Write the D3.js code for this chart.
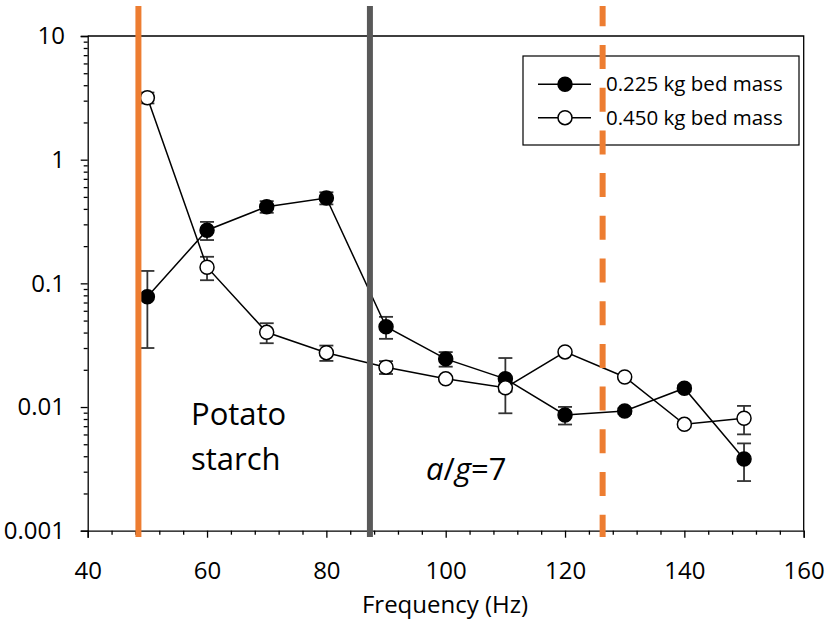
<!DOCTYPE html>
<html>
<head>
<meta charset="utf-8">
<script src="https://cdn.jsdelivr.net/npm/d3@7"></script>
<style>
  html, body { margin: 0; padding: 0; background: #fff; }
  svg { display: block; font-family: "Open Sans", "Noto Sans", sans-serif; }
</style>
</head>
<body>
<svg id="chart" width="833" height="620"></svg>
<script>
// Vibration frequency (Hz)
const frequencies = [50, 60, 70, 80, 90, 100, 110, 120, 130, 140, 150];

// 0.225 kg bed mass: mean and error
const mass225 = [0.078, 0.269, 0.417, 0.490, 0.0446, 0.0245, 0.0169, 0.00862, 0.00929, 0.0142, 0.0038];
const mass225Err = [0.048, 0.045, 0.045, 0.055, 0.009, 0.0033, 0.008, 0.0014, 0.0005, 0.0008, 0.00128];

// 0.450 kg bed mass: mean and error
const mass450 = [3.17, 0.135, 0.0402, 0.0275, 0.0210, 0.0169, 0.0143, 0.0279, 0.0175, 0.00725, 0.00811];
const mass450Err = [0.32, 0.029, 0.0074, 0.0039, 0.0025, 0.0005, 0.001, 0.0006, 0.0005, 0.0004, 0.0021];

const seriesNames = ["0.225 kg bed mass", "0.450 kg bed mass"];

// Axis ticks
const xTicks = [40, 60, 80, 100, 120, 140, 160];
const xTickLabels = ["40", "60", "80", "100", "120", "140", "160"];
const yTicks = [0.001, 0.01, 0.1, 1, 10];
const yTickLabels = ["0.001", "0.01", "0.1", "1", "10"];

// Reference frequencies (Hz)
const refSolidOrange = 48.5;
const refGrey = 87.3;
const refDashedOrange = 126.3;

const ORANGE = "#ED7D31";
const GREY = "#595959";
const ERR = "#333333";

const svg = d3.select("#chart");

const x = d3.scaleLinear().domain([40, 160]).range([87.7, 803.7]);
const y = d3.scaleLog().domain([0.001, 10]).range([530.7, 36]);

// Plot frame (top and right edges)
svg.append("path")
  .attr("d", `M${x(40)},${y(10)}H${x(160)}V${y(0.001)}`)
  .attr("fill", "none").attr("stroke", "#000").attr("stroke-width", 1.3);

// Minor ticks
const xMinor = d3.range(40, 161, 4).filter(v => !xTicks.includes(v));
const yMinor = [];
[0.001, 0.01, 0.1, 1].forEach(d => { for (let k = 2; k <= 9; k++) yMinor.push(d * k); });

const gx = svg.append("g").attr("transform", `translate(0,${y(0.001)})`);
gx.call(d3.axisBottom(x).tickValues(xMinor).tickSize(4).tickFormat(""));
gx.selectAll(".tick line").attr("stroke-width", 1.3);
gx.select(".domain").remove();
const gxMajor = svg.append("g").attr("transform", `translate(0,${y(0.001)})`)
  .call(d3.axisBottom(x).tickValues(xTicks).tickSize(7).tickPadding(24)
    .tickFormat((d, i) => xTickLabels[i]));
gxMajor.selectAll("text").attr("font-size", 24).attr("fill", "#000").attr("font-family", "Open Sans");
gxMajor.selectAll("line, path").attr("stroke", "#000").attr("stroke-width", 1.3);

const gy = svg.append("g").attr("transform", `translate(${x(40)},0)`);
gy.call(d3.axisLeft(y).tickValues(yMinor).tickSize(4).tickFormat(""));
gy.selectAll(".tick line").attr("stroke-width", 1.3);
gy.select(".domain").remove();
const gyMajor = svg.append("g").attr("transform", `translate(${x(40)},0)`)
  .call(d3.axisLeft(y).tickValues(yTicks).tickSize(7).tickPadding(15.7)
    .tickFormat((d, i) => yTickLabels[i]));
gyMajor.selectAll("text").attr("font-size", 24).attr("fill", "#000").attr("font-family", "Open Sans");
gyMajor.selectAll("line, path").attr("stroke", "#000").attr("stroke-width", 1.3);

// Axis title
svg.append("text")
  .attr("x", 445).attr("y", 613)
  .attr("text-anchor", "middle")
  .attr("font-size", 24)
  .text("Frequency (Hz)");

// Series
const series = [
  { name: seriesNames[0], values: mass225, err: mass225Err, fill: "#000" },
  { name: seriesNames[1], values: mass450, err: mass450Err, fill: "#fff" }
];

const line = d3.line().x(d => x(d.f)).y(d => y(d.v));
const capHalf = 7;

series.forEach(s => {
  const pts = frequencies.map((f, i) => ({ f, v: s.values[i], e: s.err[i] }));
  const eb = svg.append("g").attr("stroke", ERR).attr("stroke-width", 1.8);
  pts.forEach(p => {
    const top = y(p.v + p.e), bot = y(p.v - p.e), cx = x(p.f);
    eb.append("line").attr("x1", cx).attr("x2", cx).attr("y1", top).attr("y2", bot);
    eb.append("line").attr("x1", cx - capHalf).attr("x2", cx + capHalf).attr("y1", top).attr("y2", top);
    eb.append("line").attr("x1", cx - capHalf).attr("x2", cx + capHalf).attr("y1", bot).attr("y2", bot);
  });
  s.pts = pts;
});

series.forEach(s => {
  svg.append("path").datum(s.pts)
    .attr("d", line).attr("fill", "none")
    .attr("stroke", "#000").attr("stroke-width", 1.5);
});

series.forEach(s => {
  svg.append("g").selectAll("circle").data(s.pts).join("circle")
    .attr("cx", d => x(d.f)).attr("cy", d => y(d.v)).attr("r", 7)
    .attr("fill", s.fill).attr("stroke", "#000").attr("stroke-width", 1.5);
});

// Legend
const lg = svg.append("g");
lg.append("rect").attr("x", 523).attr("y", 56).attr("width", 276).attr("height", 89)
  .attr("fill", "#fff").attr("stroke", "#000").attr("stroke-width", 1.2);
series.forEach((s, i) => {
  const ly = 84.3 + i * 33.4;
  lg.append("line").attr("x1", 538).attr("x2", 591).attr("y1", ly).attr("y2", ly)
    .attr("stroke", "#000").attr("stroke-width", 1.5);
  lg.append("circle").attr("cx", 565).attr("cy", ly).attr("r", 7)
    .attr("fill", s.fill).attr("stroke", "#000").attr("stroke-width", 1.5);
  lg.append("text").attr("x", 606).attr("y", ly).attr("dy", "0.35em")
    .attr("font-size", 20.5).text(s.name);
});

// Reference lines
const vTop = 6, vBot = 537;
svg.append("line").attr("x1", x(refSolidOrange)).attr("x2", x(refSolidOrange))
  .attr("y1", vTop).attr("y2", vBot).attr("stroke", ORANGE).attr("stroke-width", 6);
svg.append("line").attr("x1", x(refGrey)).attr("x2", x(refGrey))
  .attr("y1", vTop).attr("y2", vBot).attr("stroke", GREY).attr("stroke-width", 6);
svg.append("line").attr("x1", x(refDashedOrange)).attr("x2", x(refDashedOrange))
  .attr("y1", vTop).attr("y2", vBot).attr("stroke", ORANGE).attr("stroke-width", 6)
  .attr("stroke-dasharray", "24 18.7").attr("stroke-dashoffset", 3.7);

// Region annotations
const ann = svg.append("text").attr("font-size", 31);
ann.append("tspan").attr("x", 191).attr("y", 425).text("Potato");
ann.append("tspan").attr("x", 191).attr("y", 470).text("starch");

const ag = svg.append("text").attr("x", 426).attr("y", 480).attr("font-size", 31);
ag.append("tspan").attr("font-style", "italic").text("a");
ag.append("tspan").text("/");
ag.append("tspan").attr("font-style", "italic").text("g");
ag.append("tspan").text("=7");
</script>
</body>
</html>
